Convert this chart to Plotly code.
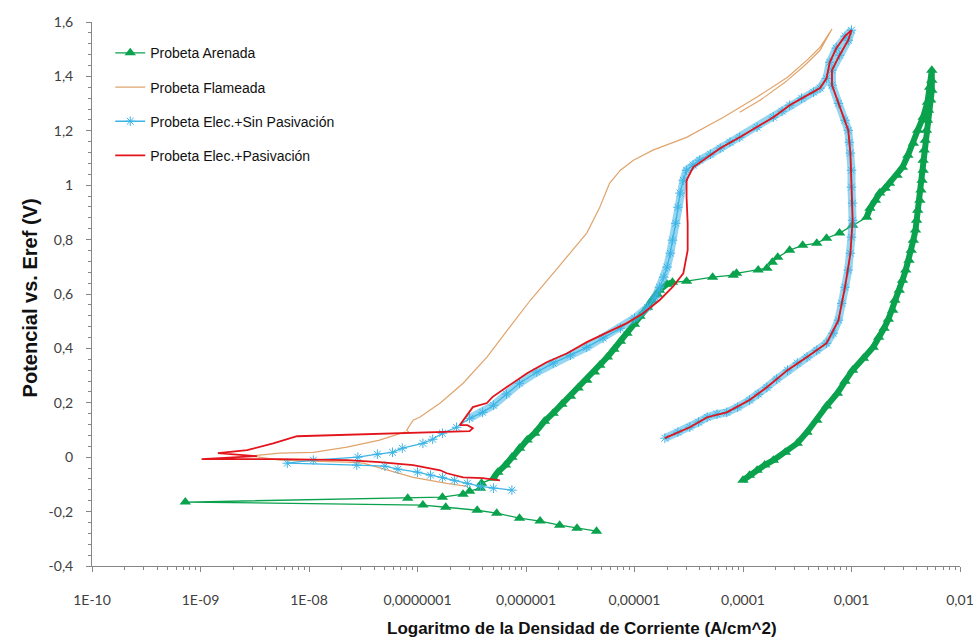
import plotly.graph_objects as go

# ---------------- data (log10 of current density, potential in V) ----------------
arenada_logj = [-5.35, -5.53, -5.69, -5.87, -6.06, -6.27, -6.45, -6.74, -6.95, -9.14, -7.09, -6.77, -6.58, -6.52, -6.42, -6.41, -6.30,
                -6.26, -6.19, -6.13, -6.06, -5.99, -5.92, -5.83, -5.75, -5.67, -5.59, -5.52, -5.44, -5.37, -5.32, -5.25, -5.19, -5.13,
                -5.07, -5.00, -4.95, -4.88, -4.84, -4.79, -4.77, -4.70, -4.65,
                -4.52, -4.28, -4.09, -4.06, -3.86, -3.78, -3.73, -3.68, -3.57, -3.45, -3.32, -3.23, -3.11, -2.99, -2.86,
                -2.83, -2.78, -2.74, -2.69, -2.65, -2.58, -2.53, -2.48, -2.43, -2.39, -2.34, -2.30, -2.28, -2.26,
                -2.26, -2.26, -2.27, -2.29, -2.30, -2.31, -2.32, -2.33, -2.34, -2.34, -2.35, -2.36, -2.37, -2.39, -2.40, -2.41,
                -2.43, -2.45, -2.47, -2.50, -2.53, -2.56, -2.60, -2.62, -2.66, -2.70, -2.75, -2.80, -2.89, -2.99, -3.06, -3.13,
                -3.23, -3.32, -3.41, -3.50, -3.61, -3.72, -3.80, -3.87, -3.94, -4.00]
arenada_v = [-0.272, -0.261, -0.250, -0.235, -0.224, -0.206, -0.195, -0.184, -0.176, -0.165, -0.151, -0.147, -0.136, -0.125, -0.114, -0.096, -0.077,
             -0.055, -0.029, 0.0, 0.033, 0.063, 0.088, 0.132, 0.162, 0.195, 0.224, 0.254, 0.283, 0.313, 0.338, 0.368, 0.397, 0.426,
             0.456, 0.489, 0.518, 0.551, 0.577, 0.599, 0.614, 0.636, 0.643,
             0.647, 0.662, 0.669, 0.676, 0.688, 0.695, 0.717, 0.735, 0.761, 0.779, 0.787, 0.805, 0.824, 0.853, 0.882,
             0.915, 0.945, 0.971, 0.989, 1.007, 1.037, 1.066, 1.110, 1.154, 1.202, 1.250, 1.305, 1.360, 1.423,
             1.386, 1.349, 1.313, 1.276, 1.239, 1.202, 1.165, 1.129, 1.092, 1.055, 1.018, 0.982, 0.945, 0.908, 0.871, 0.835,
             0.798, 0.761, 0.724, 0.688, 0.651, 0.614, 0.577, 0.540, 0.507, 0.474, 0.441, 0.404, 0.364, 0.320, 0.279, 0.235,
             0.188, 0.136, 0.092, 0.051, 0.018, -0.011, -0.029, -0.048, -0.066, -0.085]

flameada_logj = [-6.54, -6.73, -7.04, -7.28, -7.50, -7.65, -8.27, -8.52,
                 -8.48, -8.27, -7.96, -7.65, -7.35, -7.12, -7.07, -7.10, -7.04, -6.98,
                 -6.79, -6.58, -6.36, -6.15, -5.96, -5.75, -5.57, -5.44, -5.32, -5.23,
                 -5.13, -5.01, -4.83, -4.52, -4.18, -3.87, -3.59, -3.41, -3.29, -3.18,
                 -3.29, -3.43, -3.61, -3.84, -4.03]
flameada_v = [-0.107, -0.096, -0.074, -0.048, -0.022, -0.018, -0.011, 0.004,
              0.007, 0.015, 0.018, 0.037, 0.063, 0.092, 0.088, 0.099, 0.136, 0.147,
              0.199, 0.272, 0.368, 0.478, 0.577, 0.676, 0.761, 0.824, 0.919, 1.007,
              1.055, 1.092, 1.129, 1.176, 1.250, 1.324, 1.397, 1.460, 1.507, 1.574,
              1.496, 1.441, 1.379, 1.313, 1.268]

sin_pas_logj = [-6.13, -6.30, -6.42, -6.54, -6.66, -6.77, -6.88, -7.00, -7.18, -7.30, -7.56, -8.20,
                -7.96, -7.55, -7.37, -7.23, -7.14, -6.95, -6.86, -6.77, -6.64, -6.52, -6.40, -6.30,
                -6.18, -6.06, -5.90, -5.75, -5.59, -5.44, -5.29, -5.13, -5.00, -4.88,
                -4.81, -4.77, -4.73, -4.70, -4.67, -4.65, -4.62, -4.60, -4.58, -4.55,
                -4.52, -4.46, -4.40, -4.30, -4.21, -4.12, -4.03, -3.87, -3.72, -3.64,
                -3.57, -3.46, -3.35, -3.29, -3.23, -3.20, -3.14, -3.06, -3.00,
                -3.03, -3.11, -3.18, -3.18, -3.12, -3.06, -3.03, -3.02, -3.01, -3.00, -3.00, -2.99, -2.99,
                -3.00, -3.01, -3.03, -3.06, -3.09, -3.12, -3.17, -3.23, -3.32, -3.41, -3.50, -3.59, -3.69,
                -3.78, -3.86, -3.94, -4.05, -4.15, -4.24, -4.33, -4.41, -4.49, -4.60, -4.72]
sin_pas_v = [-0.121, -0.114, -0.107, -0.096, -0.085, -0.074, -0.066, -0.055, -0.044, -0.033, -0.029, -0.022,
             -0.011, 0.0, 0.011, 0.018, 0.033, 0.051, 0.066, 0.088, 0.110, 0.143, 0.165, 0.191,
             0.232, 0.272, 0.313, 0.346, 0.375, 0.404, 0.438, 0.474, 0.511, 0.551,
             0.588, 0.625, 0.662, 0.699, 0.750, 0.798, 0.860, 0.919, 0.971, 1.018,
             1.055, 1.074, 1.092, 1.114, 1.136, 1.158, 1.176, 1.213, 1.250, 1.272,
             1.294, 1.320, 1.342, 1.357, 1.393, 1.452, 1.504, 1.548, 1.570,
             1.533, 1.478, 1.423, 1.368, 1.301, 1.239, 1.202, 1.158, 1.118, 1.055, 0.993, 0.934, 0.871,
             0.809, 0.750, 0.688, 0.625, 0.566, 0.504, 0.456, 0.419, 0.393, 0.368, 0.346, 0.320, 0.287,
             0.257, 0.232, 0.210, 0.184, 0.165, 0.158, 0.147, 0.129, 0.110, 0.092, 0.070]

pas_logj = [-6.24, -6.40, -6.58, -6.73, -6.79, -7.04, -7.35, -7.65, -8.27, -8.99,
            -8.48, -8.84, -8.57, -8.33, -8.11, -7.35, -6.52,
            -6.49, -6.54, -6.61, -6.56, -6.49, -6.36, -6.31, -6.18, -6.06, -5.99,
            -5.81, -5.62, -5.44, -5.25, -5.07, -4.92, -4.77, -4.65, -4.55, -4.51,
            -4.51, -4.52, -4.52, -4.46, -4.33, -4.21,
            -4.03, -3.72, -3.57, -3.35, -3.29, -3.23, -3.20, -3.14, -3.06, -3.00,
            -3.03, -3.11, -3.18, -3.18, -3.12, -3.06, -3.03, -3.01, -3.00, -2.99, -3.01,
            -3.06, -3.12, -3.23, -3.41, -3.59, -3.78, -3.94, -4.15, -4.33, -4.49, -4.72]
pas_v = [-0.085, -0.077, -0.074, -0.059, -0.048, -0.029, -0.018, -0.011, -0.007, -0.007,
         0.004, 0.015, 0.026, 0.051, 0.077, 0.085, 0.096,
         0.107, 0.118, 0.118, 0.147, 0.184, 0.199, 0.221, 0.257, 0.290, 0.309,
         0.349, 0.382, 0.423, 0.460, 0.493, 0.529, 0.577, 0.625, 0.676, 0.761,
         0.860, 0.956, 1.018, 1.066, 1.103, 1.136,
         1.176, 1.250, 1.294, 1.342, 1.357, 1.393, 1.452, 1.504, 1.548, 1.570,
         1.533, 1.478, 1.423, 1.368, 1.301, 1.239, 1.202, 1.118, 0.993, 0.871, 0.750,
         0.625, 0.504, 0.419, 0.368, 0.320, 0.257, 0.210, 0.165, 0.147, 0.110, 0.070]

series_names = ["Probeta Arenada", "Probeta Flameada", "Probeta Elec.+Sin Pasivación", "Probeta Elec.+Pasivación"]

x_tick_vals = [1e-10, 1e-9, 1e-8, 1e-7, 1e-6, 1e-5, 1e-4, 1e-3, 1e-2]
x_tick_text = ["1E-10", "1E-09", "1E-08", "0,0000001", "0,000001", "0,00001", "0,0001", "0,001", "0,01"]
y_tick_vals = [-0.4, -0.2, 0, 0.2, 0.4, 0.6, 0.8, 1.0, 1.2, 1.4, 1.6]
y_tick_text = ["-0,4", "-0,2", "0", "0,2", "0,4", "0,6", "0,8", "1", "1,2", "1,4", "1,6"]

x_title = "Logaritmo de la Densidad de Corriente (A/cm^2)"
y_title = "Potencial vs. Eref (V)"

# index ranges where the recorded points are so dense that the markers merge into a band
arenada_dense = [(16, 43), (57, None)]
sin_pas_dense_start = 21


def to_j(logs):
    return [10 ** v for v in logs]


GREEN = "#0BA24E"
ORANGE = "#E0A46C"
BLUE = "#3DB4E6"
RED = "#E3151C"

fig = go.Figure()

# dense-band rendering (same data, no legend entry)
for a, b in arenada_dense:
    fig.add_trace(go.Scatter(
        x=to_j(arenada_logj[a:b]), y=arenada_v[a:b], mode="lines", showlegend=False, hoverinfo="skip",
        line=dict(color=GREEN, width=6)))

fig.add_trace(go.Scatter(
    x=to_j(arenada_logj), y=arenada_v, name=series_names[0], legendgroup="a",
    mode="lines+markers", line=dict(color=GREEN, width=1.3),
    marker=dict(symbol="triangle-up", size=10, color=GREEN)))
fig.add_trace(go.Scatter(
    x=to_j(flameada_logj), y=flameada_v, name=series_names[1], legendgroup="b",
    mode="lines", line=dict(color=ORANGE, width=1.2)))
fig.add_trace(go.Scatter(
    x=to_j(sin_pas_logj[sin_pas_dense_start:]), y=sin_pas_v[sin_pas_dense_start:], mode="lines",
    showlegend=False, hoverinfo="skip", line=dict(color="rgba(61,180,230,0.55)", width=8)))
fig.add_trace(go.Scatter(
    x=to_j(sin_pas_logj), y=sin_pas_v, name=series_names[2], legendgroup="c",
    mode="lines+markers", line=dict(color=BLUE, width=1.3),
    marker=dict(symbol="asterisk-open", size=8, color=BLUE, line=dict(color=BLUE, width=1))))
fig.add_trace(go.Scatter(
    x=to_j(pas_logj), y=pas_v, name=series_names[3], legendgroup="d",
    mode="lines", line=dict(color=RED, width=1.8)))

minor_x = [m * 10 ** e for e in range(-10, -2) for m in range(2, 10)]

axis_font = dict(family="Lato, Carlito, Liberation Sans, sans-serif", size=14, color="#404040")

fig.update_layout(
    width=976, height=641,
    margin=dict(l=92, r=16, t=22, b=75, autoexpand=False),
    paper_bgcolor="white", plot_bgcolor="white",
    showlegend=True,
    legend=dict(x=0.021, y=0.972, xanchor="left", yanchor="top",
                bgcolor="rgba(0,0,0,0)", tracegroupgap=13,
                font=dict(family="Liberation Sans, Arial, sans-serif", size=14, color="#111111")),
    xaxis=dict(type="log", range=[-10, -2], showgrid=False, zeroline=False, automargin=False,
               showline=True, linecolor="#868686", linewidth=1,
               ticks="outside", ticklen=5, tickcolor="#868686",
               tickmode="array", tickvals=x_tick_vals, ticktext=x_tick_text,
               ticklabelstandoff=16, tickfont=axis_font,
               minor=dict(ticks="outside", ticklen=3, tickcolor="#868686", tickvals=minor_x, showgrid=False)),
    yaxis=dict(range=[-0.4, 1.6], showgrid=False, zeroline=False, automargin=False,
               showline=True, linecolor="#868686", linewidth=1,
               ticks="outside", ticklen=5, tickcolor="#868686",
               tickmode="array", tickvals=y_tick_vals, ticktext=y_tick_text,
               ticklabelstandoff=10, tickfont=axis_font,
               minor=dict(ticks="outside", ticklen=3, tickcolor="#868686", dtick=0.04, tick0=-0.4, showgrid=False)),
    annotations=[
        dict(text="<b>" + x_title + "</b>", xref="paper", yref="paper", x=0.5645, y=-0.114,
             xanchor="center", yanchor="middle", showarrow=False,
             font=dict(family="Liberation Sans, Arial, sans-serif", size=17, color="#111111")),
        dict(text="<b>" + y_title + "</b>", xref="paper", yref="paper", x=-0.0714, y=0.492, textangle=-90,
             xanchor="center", yanchor="middle", showarrow=False,
             font=dict(family="Liberation Sans, Arial, sans-serif", size=20, color="#111111")),
    ],
)

fig.write_html("out.html", config={"displayModeBar": False},
               post_script="document.body.style.margin='0';document.body.style.padding='0';")
